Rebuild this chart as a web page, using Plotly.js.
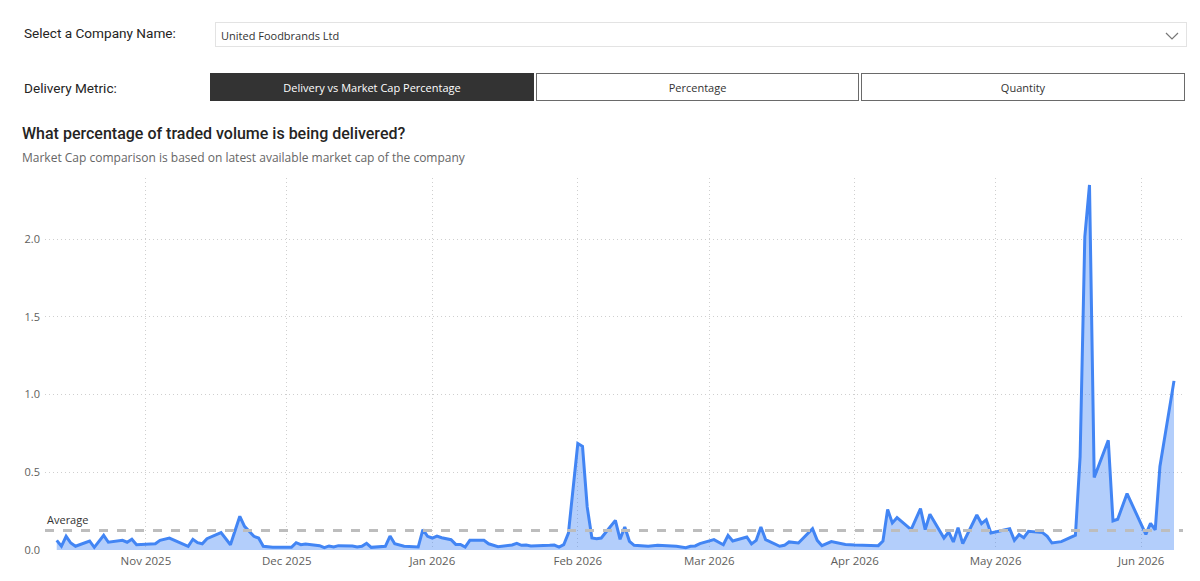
<!DOCTYPE html>
<html>
<head>
<meta charset="utf-8">
<script src="https://cdn.plot.ly/plotly-3.0.1.min.js"></script>
<style>
  html, body { margin:0; padding:0; background:#fff; width:1200px; height:581px; overflow:hidden; font-family:"Segoe UI","Open Sans",sans-serif; }
  .lbl { position:absolute; font-family:Roboto,"Open Sans",sans-serif; font-size:13.6px; color:#252423; }
  .dd { position:absolute; left:215px; top:22px; width:970px; height:23px; border:1px solid #e3e3e3; }
  .dd span { position:absolute; left:5px; top:5px; font-size:11px; color:#333; font-family:"Open Sans",sans-serif; }
  .dd svg { position:absolute; right:7px; top:8px; }
  .btn { position:absolute; top:73px; height:26px; border:1px solid #6a6a6a; font-family:"Open Sans",sans-serif; font-size:11px; color:#333; text-align:center; line-height:28px; box-sizing:content-box; }
  .btn.on { background:#333; color:#fff; border-color:#333; }
  #title { position:absolute; left:22px; top:124px; font-family:Roboto,"Open Sans",sans-serif; font-weight:500; font-size:16px; color:#252423; }
  #sub { position:absolute; left:22px; top:149px; font-family:"Open Sans",sans-serif; font-size:12px; color:#666; }
  #chart { position:absolute; left:0; top:170px; width:1200px; height:411px; }
</style>
</head>
<body>
<div class="lbl" style="left:24px; top:25px;">Select a Company Name:</div>
<div class="dd"><span>United Foodbrands Ltd</span>
  <svg width="14" height="10" viewBox="0 0 14 10"><polyline points="1,2 7,8 13,2" fill="none" stroke="#777" stroke-width="1.2"/></svg>
</div>
<div class="lbl" style="left:24px; top:80px;">Delivery Metric:</div>
<div class="btn on" style="left:210px; width:322px;">Delivery vs Market Cap Percentage</div>
<div class="btn" style="left:536px; width:321px;">Percentage</div>
<div class="btn" style="left:861px; width:322px;">Quantity</div>
<div id="title">What percentage of traded volume is being delivered?</div>
<div id="sub">Market Cap comparison is based on latest available market cap of the company</div>
<div id="chart"></div>
<script>
const dates = [
 "2025-10-13","2025-10-14","2025-10-15","2025-10-16","2025-10-17","2025-10-20","2025-10-21","2025-10-23","2025-10-24",
 "2025-10-27","2025-10-28","2025-10-29","2025-10-30","2025-11-03","2025-11-04","2025-11-06","2025-11-10","2025-11-11",
 "2025-11-12","2025-11-13","2025-11-14","2025-11-17","2025-11-19","2025-11-21","2025-11-22","2025-11-24","2025-11-25",
 "2025-11-26","2025-11-28","2025-12-02","2025-12-03","2025-12-04","2025-12-05","2025-12-08","2025-12-09","2025-12-10",
 "2025-12-11","2025-12-12","2025-12-15","2025-12-16","2025-12-17","2025-12-18","2025-12-19","2025-12-22","2025-12-23",
 "2025-12-24","2025-12-26","2025-12-29","2025-12-30","2025-12-31","2026-01-01","2026-01-02","2026-01-03","2026-01-05",
 "2026-01-06","2026-01-07","2026-01-08","2026-01-09","2026-01-12","2026-01-13","2026-01-15","2026-01-18","2026-01-19",
 "2026-01-20","2026-01-21","2026-01-22","2026-01-26","2026-01-27","2026-01-28","2026-01-29","2026-01-30","2026-02-01",
 "2026-02-02","2026-02-03","2026-02-04","2026-02-05","2026-02-06","2026-02-09","2026-02-10","2026-02-11","2026-02-12",
 "2026-02-13","2026-02-16","2026-02-18","2026-02-22","2026-02-24","2026-02-25","2026-02-26","2026-02-27","2026-03-02",
 "2026-03-04","2026-03-05","2026-03-06","2026-03-09","2026-03-10","2026-03-11","2026-03-12","2026-03-13","2026-03-16",
 "2026-03-17","2026-03-18","2026-03-20","2026-03-23","2026-03-24","2026-03-25","2026-03-27","2026-03-30","2026-04-01",
 "2026-04-06","2026-04-07","2026-04-08","2026-04-09","2026-04-10","2026-04-13","2026-04-15","2026-04-16","2026-04-17",
 "2026-04-20","2026-04-21","2026-04-22","2026-04-23","2026-04-24","2026-04-27","2026-04-28","2026-04-29","2026-04-30",
 "2026-05-04","2026-05-05","2026-05-06","2026-05-07","2026-05-08","2026-05-11","2026-05-12","2026-05-13","2026-05-15",
 "2026-05-18","2026-05-19","2026-05-20","2026-05-21","2026-05-22","2026-05-25","2026-05-26","2026-05-27","2026-05-29",
 "2026-06-02","2026-06-03","2026-06-04","2026-06-05","2026-06-08"
];
const deliveryPct = [
 0.062,0.024,0.088,0.045,0.024,0.058,0.017,0.094,0.050,
 0.062,0.050,0.069,0.034,0.040,0.062,0.077,0.024,0.069,
 0.047,0.040,0.073,0.112,0.034,0.217,0.152,0.088,0.077,
 0.024,0.017,0.017,0.047,0.034,0.039,0.028,0.015,0.026,
 0.019,0.028,0.026,0.019,0.024,0.043,0.017,0.024,0.090,
 0.040,0.024,0.019,0.131,0.088,0.077,0.090,0.079,0.066,
 0.036,0.036,0.019,0.062,0.062,0.040,0.021,0.032,0.043,
 0.030,0.032,0.026,0.030,0.032,0.019,0.034,0.109,0.685,
 0.667,0.277,0.077,0.073,0.077,0.191,0.069,0.148,0.056,
 0.030,0.024,0.030,0.024,0.015,0.024,0.026,0.041,0.067,
 0.034,0.094,0.058,0.084,0.039,0.062,0.148,0.067,0.024,
 0.030,0.052,0.045,0.137,0.062,0.028,0.054,0.036,0.032,
 0.028,0.058,0.260,0.174,0.208,0.131,0.266,0.131,0.230,
 0.077,0.116,0.052,0.144,0.041,0.225,0.170,0.195,0.109,
 0.137,0.062,0.099,0.079,0.120,0.112,0.088,0.045,0.054,
 0.095,0.600,2.015,2.348,0.466,0.706,0.187,0.198,0.363,
 0.100,0.172,0.130,0.537,1.088
];
const averageValue = 0.125;
const averageLabel = "Average";
const yTickVals = [0, 0.5, 1, 1.5, 2];
const yTickText = ["0.0", "0.5", "1.0", "1.5", "2.0"];

const traces = [
  {
    x: dates, y: deliveryPct, type: 'scatter', mode: 'lines',
    line: {color: '#4285f4', width: 3, shape: 'linear'},
    fill: 'tozeroy', fillcolor: 'rgba(66,133,244,0.40)',
    hoverinfo: 'x+y'
  }
];
const layout = {
  width: 1200, height: 411,
  margin: {l: 45, r: 17, t: 8, b: 31},
  paper_bgcolor: '#fff', plot_bgcolor: '#fff',
  showlegend: false,
  font: {family: '"Segoe UI","Open Sans",sans-serif', size: 11, color: '#605e5c'},
  xaxis: {
    type: 'date',
    range: ['2025-10-10 12:00', '2026-06-09 22:00'],
    dtick: 'M1', tick0: '2025-11-01', tickformat: '%b %Y',
    showgrid: true, gridcolor: '#cfcfcf', griddash: '1px,3px', gridwidth: 1,
    zeroline: false, showline: false, ticks: '', ticklabelstandoff: 2,
    tickfont: {family: '"Open Sans",sans-serif', size: 11.5, color: '#605e5c'}
  },
  yaxis: {
    range: [0, 2.393],
    tickvals: yTickVals, ticktext: yTickText,
    showgrid: true, gridcolor: '#cfcfcf', griddash: '1px,3px', gridwidth: 1,
    zeroline: false, showline: false, ticks: '', ticklabelstandoff: 4,
    tickfont: {family: '"Open Sans",sans-serif', size: 11, color: '#605e5c'}
  },
  shapes: [{
    type: 'line', xref: 'paper', x0: 0, x1: 1, yref: 'y', y0: averageValue, y1: averageValue,
    line: {color: '#bdbdbd', width: 3, dash: 'dash'}, layer: 'above'
  }],
  annotations: [{
    xref: 'paper', x: 0.0, yref: 'y', y: averageValue, yshift: 2,
    text: averageLabel, showarrow: false, xanchor: 'left', yanchor: 'bottom',
    font: {family: '"Open Sans",sans-serif', size: 11, color: '#333'}
  }]
};
Plotly.newPlot('chart', traces, layout, {displayModeBar: false, staticPlot: true});
</script>
</body>
</html>
